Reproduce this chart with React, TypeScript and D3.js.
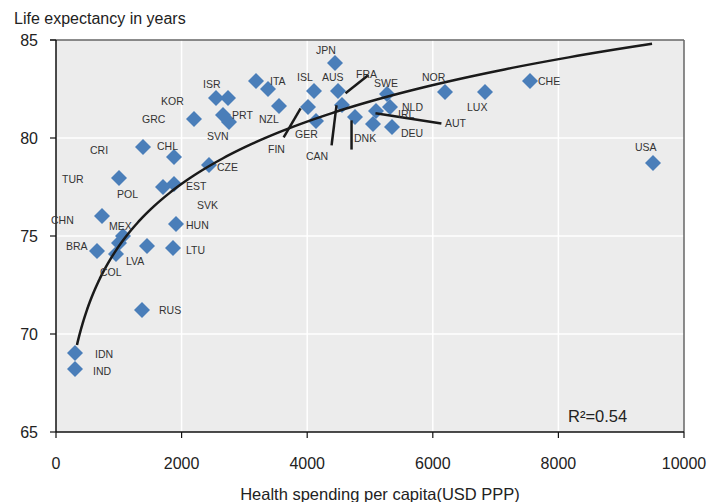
import React from "react";
import * as d3 from "d3";

// spending per capita (USD PPP) and life expectancy
const codes = ["IND", "IDN", "RUS", "BRA", "COL", "LVA", "MEX", "SVK", "LTU", "HUN", "CHN", "TUR", "POL", "EST", "CZE", "CRI", "CHL", "GRC", "KOR", "ISR", "PRT", "SVN", "ITA", "ESP", "NZL", "ISL", "FIN", "GER", "JPN", "AUS", "FRA", "DNK", "SWE", "NLD", "AUT", "IRL", "DEU", "NOR", "LUX", "CHE", "USA"];
const spending = [303, 303, 1369, 653, 955, 1003, 1067, 1449, 1863, 1911, 732, 1003, 1704, 1879, 2436, 1385, 1879, 2197, 2548, 2739, 2659, 2755, 3185, 3376, 3551, 4108, 4013, 4140, 4443, 4490, 4554, 4761, 5271, 5318, 5096, 5048, 5350, 6194, 6831, 7548, 9506];
const lifeExp = [68.21, 69.03, 71.22, 74.23, 74.08, 74.64, 75.0, 74.49, 74.39, 75.61, 76.02, 77.96, 77.5, 77.65, 78.62, 79.54, 79.03, 80.97, 82.04, 82.04, 81.17, 80.82, 82.91, 82.5, 81.63, 82.4, 81.58, 80.87, 83.83, 82.4, 81.68, 81.07, 82.24, 81.58, 81.38, 80.71, 80.56, 82.35, 82.35, 82.91, 78.72];

// label text and where it sits (data units: left edge, middle)
const labelText = ["ISR", "KOR", "GRC", "SVN", "PRT", "CRI", "CHL", "CZE", "TUR", "POL", "EST", "SVK", "CHN", "MEX", "HUN", "BRA", "LTU", "LVA", "COL", "RUS", "IDN", "IND", "JPN", "ITA", "ISL", "AUS", "FRA", "SWE", "NOR", "NZL", "NLD", "IRL", "AUT", "GER", "DNK", "DEU", "FIN", "CAN", "LUX", "CHE", "USA"];
const labelX = [2341, 1672, 1369, 2404, 2803, 541, 1608, 2564, 96, 971, 2070, 2245, -80, 844, 2070, 159, 2070, 1115, 701, 1640, 621, 589, 4140, 3408, 3838, 4236, 4777, 5064, 5828, 3232, 5510, 5446, 6194, 3806, 4745, 5494, 3376, 3981, 6545, 7675, 9220];
const labelY = [82.76, 81.89, 80.97, 80.1, 81.17, 79.39, 79.59, 78.52, 77.91, 77.14, 77.55, 76.58, 75.82, 75.51, 75.56, 74.49, 74.29, 73.72, 73.16, 71.22, 68.98, 68.11, 84.49, 82.91, 83.11, 83.11, 83.27, 82.81, 83.11, 80.97, 81.58, 81.22, 80.77, 80.2, 80.0, 80.26, 79.44, 79.08, 81.58, 82.91, 79.54];

// leader lines [x1, y1, x2, y2]
const leaders = [
  [4976, 83.21, 4610, 82.28],
  [3895, 81.51, 3625, 80.03],
  [4467, 81.67, 4388, 79.62],
  [4706, 80.9, 4706, 79.41],
  [5087, 81.26, 6137, 80.74],
];

// log trend: y = a + b ln(x)
const fitA = 42.77;
const fitB = 4.59;
const fitFrom = 334;
const fitTo = 9491;

const xTicks = [0, 2000, 4000, 6000, 8000, 10000];
const yTicks = [65, 70, 75, 80, 85];

export default function App() {
  const width = 709;
  const height = 502;
  const left = 56;
  const right = 684;
  const top = 40;
  const bottom = 432;

  const x = d3.scaleLinear().domain([0, 10000]).range([left, right]);
  const y = d3.scaleLinear().domain([65, 85]).range([bottom, top]);

  const fitPts = d3.range(0, 201).map((i) => {
    const v = fitFrom * Math.pow(fitTo / fitFrom, i / 200);
    return [v, fitA + fitB * Math.log(v)] as [number, number];
  });
  const fitLine = d3
    .line<[number, number]>()
    .x((d) => x(d[0]))
    .y((d) => y(d[1]))
    .curve(d3.curveBasis)(fitPts);

  const r = 8;
  const diamond = (cx: number, cy: number) =>
    `M${cx},${cy - r}L${cx + r},${cy}L${cx},${cy + r}L${cx - r},${cy}Z`;

  const font = "'Liberation Sans', Arial, sans-serif";

  return (
    <svg
      width={width}
      height={height}
      style={{ position: "absolute", left: 0, top: 0, background: "#fff" }}
      fontFamily={font}
    >
      <rect x={left} y={top} width={right - left} height={bottom - top} fill="#ececec" />
      {xTicks.slice(1, -1).map((t) => (
        <line key={"gx" + t} x1={x(t)} x2={x(t)} y1={top} y2={bottom} stroke="#fff" strokeWidth={1.5} />
      ))}
      {yTicks.slice(1, -1).map((t) => (
        <line key={"gy" + t} x1={left} x2={right} y1={y(t)} y2={y(t)} stroke="#fff" strokeWidth={1.5} />
      ))}
      {/* frame */}
      <line x1={left - 6} x2={right} y1={top} y2={top} stroke="#666" strokeWidth={1.5} />
      <line x1={right} x2={right} y1={top} y2={bottom} stroke="#666" strokeWidth={1.5} />
      <line x1={left} x2={left} y1={top} y2={bottom} stroke="#111" strokeWidth={1.5} />
      <line x1={left} x2={right} y1={bottom} y2={bottom} stroke="#111" strokeWidth={1.5} />
      {yTicks.map((t) => (
        <g key={"ty" + t}>
          <line x1={left - 6} x2={left} y1={y(t)} y2={y(t)} stroke="#111" strokeWidth={1.2} />
          <text x={38} y={y(t)} dy="0.35em" textAnchor="end" fontSize={16} fill="#222">
            {t}
          </text>
        </g>
      ))}
      {xTicks.map((t) => (
        <g key={"tx" + t}>
          <line x1={x(t)} x2={x(t)} y1={bottom} y2={bottom + 6} stroke="#111" strokeWidth={1.2} />
          <text x={x(t)} y={463} dy="0.35em" textAnchor="middle" fontSize={16} fill="#222">
            {t}
          </text>
        </g>
      ))}

      {spending.map((s, i) => (
        <path key={codes[i]} d={diamond(x(s), y(lifeExp[i]))} fill="#4a7eb9" />
      ))}

      <path d={fitLine || ""} fill="none" stroke="#1a1a1a" strokeWidth={2.5} />

      {leaders.map((l, i) => (
        <line key={"ld" + i} x1={x(l[0])} y1={y(l[1])} x2={x(l[2])} y2={y(l[3])} stroke="#1a1a1a" strokeWidth={2.5} />
      ))}

      {labelText.map((t, i) => (
        <text key={"lb" + i} x={x(labelX[i])} y={y(labelY[i])} dy="0.35em" fontSize={10.5} fill="#333">
          {t}
        </text>
      ))}

      <text x={568} y={416} dy="0.35em" fontSize={16.5} fill="#222">
        R²=0.54
      </text>
      <text x={14} y={18} dy="0.35em" fontSize={16} fill="#222">
        Life expectancy in years
      </text>
      <text x={380} y={494} dy="0.35em" textAnchor="middle" fontSize={16.5} fill="#222">
        Health spending per capita(USD PPP)
      </text>
    </svg>
  );
}
